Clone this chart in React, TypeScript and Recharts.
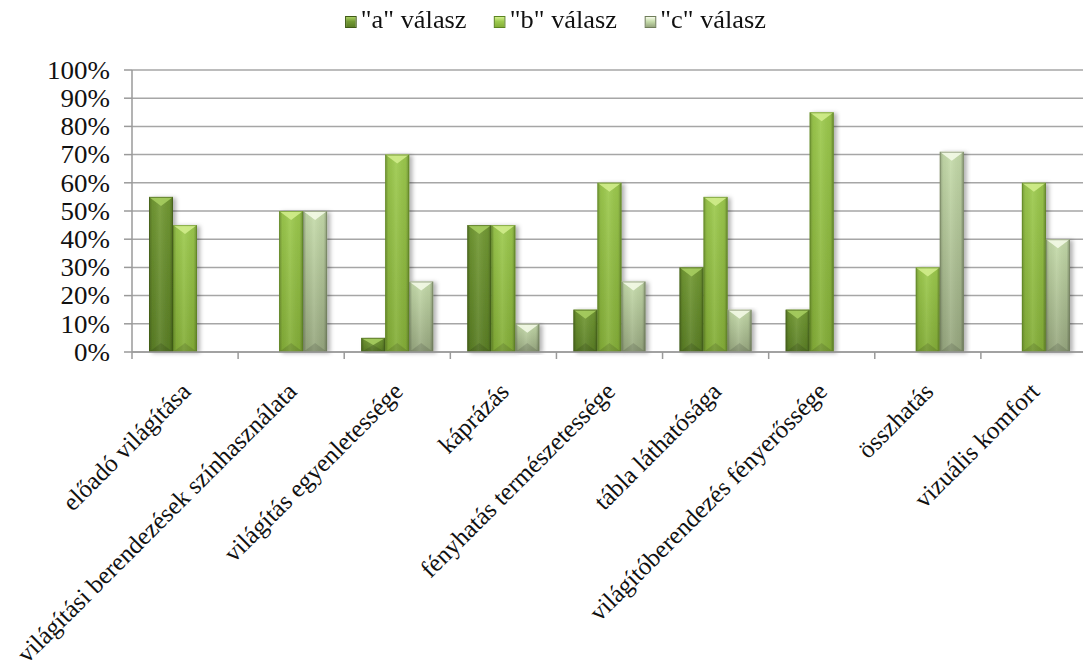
import React from 'react';
import { BarChart, Bar, XAxis, YAxis, CartesianGrid } from 'recharts';

const categories = [
  'előadó világítása',
  'világítási berendezések színhasználata',
  'világítás egyenletessége',
  'káprázás',
  'fényhatás természetessége',
  'tábla láthatósága',
  'világítóberendezés fényerőssége',
  'összhatás',
  'vizuális komfort',
];

const answerA = [0.55, 0, 0.05, 0.45, 0.15, 0.3, 0.15, 0, 0];
const answerB = [0.45, 0.5, 0.7, 0.45, 0.6, 0.55, 0.85, 0.3, 0.6];
const answerC = [0, 0.5, 0.25, 0.1, 0.25, 0.15, 0, 0.71, 0.4];

const yTicks = [0, 0.1, 0.2, 0.3, 0.4, 0.5, 0.6, 0.7, 0.8, 0.9, 1];

const data = categories.map((name, i) => ({
  name,
  a: answerA[i],
  b: answerB[i],
  c: answerC[i],
}));

const FONT = 'Liberation Serif';

interface Tone {
  key: string;
  label: string;
  top: string;
  bottom: string;
  edge: string;
  bevel: string;
}

const tones: Tone[] = [
  { key: 'a', label: '"a" válasz', top: '#739a34', bottom: '#5a7e25', edge: '#3f5a16', bevel: '#a9d062' },
  { key: 'b', label: '"b" válasz', top: '#9dca4e', bottom: '#84ae38', edge: '#5b8420', bevel: '#d3ef8e' },
  { key: 'c', label: '"c" válasz', top: '#c6dcab', bottom: '#97a77f', edge: '#6f7d5a', bevel: '#f6fbea' },
];

// bar body with the bevelled top/bottom chevrons and darker side edges
const BevelBar = (tone: Tone) => (props: any) => {
  const { x, y, width, height } = props;
  if (!height || height <= 0) return null;
  const bev = Math.min(9, height / 2);
  const mid = x + width / 2;
  return (
    <g filter="url(#barShadow)">
      <rect x={x} y={y} width={width} height={height} fill={`url(#body-${tone.key})`} />
      <rect x={x} y={y} width={width} height={height} fill="url(#sideShade)" />
      <polygon
        points={`${x},${y} ${x + width},${y} ${mid},${y + bev}`}
        fill={tone.bevel}
        opacity={0.85}
      />
      <polygon
        points={`${x},${y + height} ${x + width},${y + height} ${mid},${y + height - bev}`}
        fill="#000"
        opacity={0.12}
      />
      <rect
        x={x + 0.5}
        y={y + 0.5}
        width={width - 1}
        height={height - 1}
        fill="none"
        stroke={tone.edge}
        strokeOpacity={0.6}
        strokeWidth={1}
      />
    </g>
  );
};

// category label at 45°, plus tick marks on the band boundaries
const CategoryTick = (props: any) => {
  const { x, y, payload, index } = props;
  const half = payload?.offset ?? 0;
  const tx = x + 7;
  const ty = y + 33;
  return (
    <g>
      <line x1={x - half} y1={y - 8} x2={x - half} y2={y - 1} stroke="#9a9a9a" strokeWidth={1.5} />
      {index === categories.length - 1 && (
        <line x1={x + half} y1={y - 8} x2={x + half} y2={y - 1} stroke="#9a9a9a" strokeWidth={1.5} />
      )}
      <text
        x={tx}
        y={ty}
        textAnchor="end"
        transform={`rotate(-45 ${tx} ${ty})`}
        style={{ fontFamily: FONT }}
        fontSize={25}
        fill="#111"
      >
        {payload.value}
      </text>
    </g>
  );
};

const ValueTick = (props: any) => {
  const { x, y, payload } = props;
  return (
    <text
      transform={`translate(${x} ${y}) scale(1.08 1)`}
      dy="0.35em"
      textAnchor="end"
      style={{ fontFamily: FONT }}
      fontSize={25}
      fill="#111"
    >
      {`${Math.round(payload.value * 100)}%`}
    </text>
  );
};

const LegendRow = () => (
  <div
    style={{
      position: 'absolute',
      top: 6,
      left: 0,
      width: 1083,
      paddingLeft: 28,
      boxSizing: 'border-box',
      display: 'flex',
      justifyContent: 'center',
      gap: 26,
      fontFamily: FONT,
      fontSize: 25,
      lineHeight: '28px',
      color: '#111',
      whiteSpace: 'nowrap',
      transform: 'scaleX(1.055)',
      transformOrigin: '555px 0',
    }}
  >
    {tones.map((t) => (
      <span key={t.key} style={{ display: 'flex', alignItems: 'baseline' }}>
        <span
          style={{
            display: 'inline-block',
            width: 9,
            height: 10,
            marginRight: 4,
            background: `linear-gradient(180deg, ${t.bevel} 0%, ${t.top} 45%, ${t.bottom} 100%)`,
            border: `1px solid ${t.edge}`,
          }}
        />
        {t.label}
      </span>
    ))}
  </div>
);

export default function App() {
  return (
    <div style={{ position: 'fixed', left: 0, top: 0, width: 1083, height: 666, overflow: 'hidden', background: '#fff', fontFamily: FONT }}>
      <LegendRow />
      <BarChart
        width={1087}
        height={666}
        data={data}
        barGap={0}
        barSize={24}
        margin={{ top: 70, right: 0, left: 0, bottom: 0 }}
        style={{ fontFamily: FONT }}
      >
        <defs>
          {tones.map((t) => (
            <linearGradient key={t.key} id={`body-${t.key}`} x1="0" y1="0" x2="0" y2="1">
              <stop offset="0%" stopColor={t.top} />
              <stop offset="100%" stopColor={t.bottom} />
            </linearGradient>
          ))}
          <linearGradient id="sideShade" x1="0" y1="0" x2="1" y2="0">
            <stop offset="0%" stopColor="#000" stopOpacity={0.25} />
            <stop offset="14%" stopColor="#000" stopOpacity={0.05} />
            <stop offset="45%" stopColor="#fff" stopOpacity={0.08} />
            <stop offset="86%" stopColor="#000" stopOpacity={0.05} />
            <stop offset="100%" stopColor="#000" stopOpacity={0.3} />
          </linearGradient>
          <filter id="barShadow" x="-20%" y="-5%" width="150%" height="115%">
            <feDropShadow dx={3} dy={1} stdDeviation={2} floodColor="#000" floodOpacity={0.3} />
          </filter>
        </defs>
        <CartesianGrid vertical={false} stroke="#a6a6a6" strokeWidth={1.5} />
        <XAxis
          dataKey="name"
          interval={0}
          tickLine={false}
          axisLine={{ stroke: '#9a9a9a', strokeWidth: 1.5 }}
          tick={<CategoryTick />}
          height={314}
        />
        <YAxis
          domain={[0, 1]}
          ticks={yTicks}
          width={132}
          interval={0}
          tickLine={{ stroke: '#9a9a9a', strokeWidth: 1.5 }}
          tickSize={8}
          tickMargin={14}
          axisLine={{ stroke: '#9a9a9a', strokeWidth: 1.5 }}
          tick={<ValueTick />}
        />
        {tones.map((t) => (
          <Bar
            key={t.key}
            dataKey={t.key}
            name={t.label}
            shape={BevelBar(t)}
            isAnimationActive={false}
          />
        ))}
      </BarChart>
    </div>
  );
}
